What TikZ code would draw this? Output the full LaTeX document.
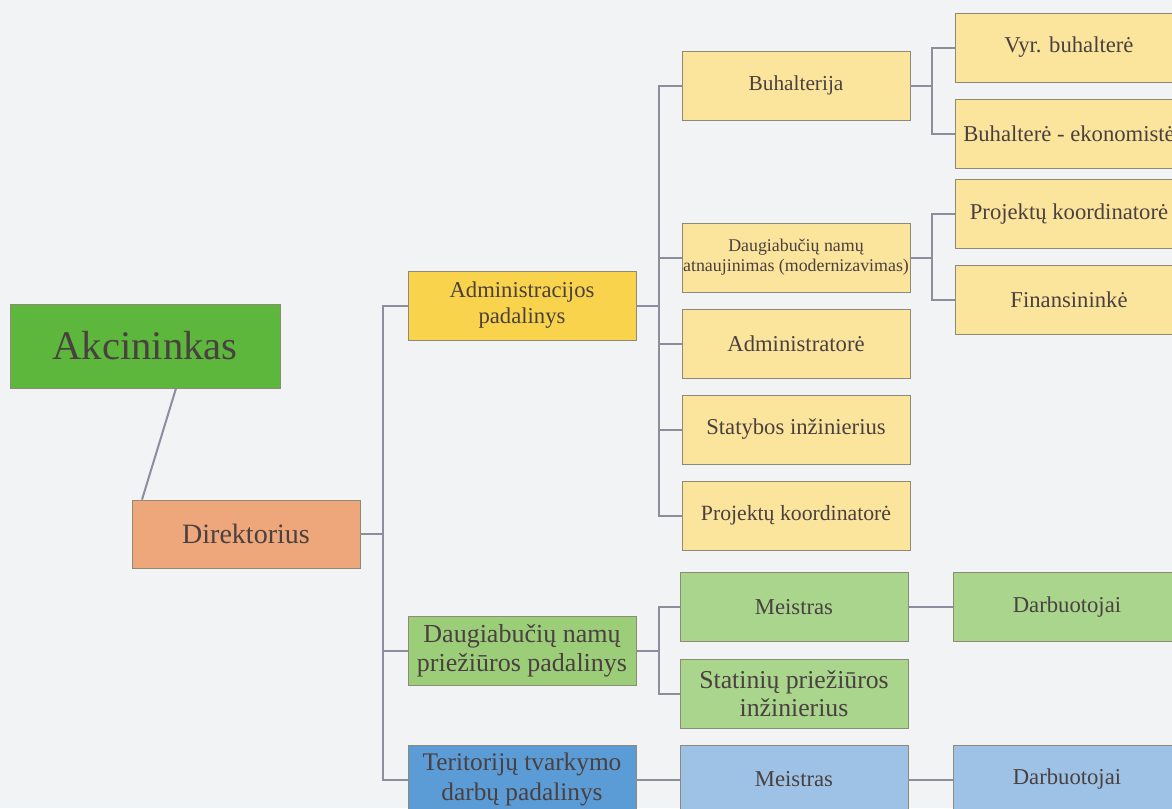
\documentclass[tikz,border=0pt]{standalone}
\usepackage{fontspec}
\setmainfont{Liberation Serif}
\usetikzlibrary{calc}
\definecolor{bg}{HTML}{F2F3F4}
\definecolor{txt}{HTML}{4A4040}
\definecolor{lin}{HTML}{8C8E9E}
\definecolor{outl}{HTML}{8F8A78}
\definecolor{cAk}{HTML}{5CB73C}
\definecolor{cDir}{HTML}{EDA77B}
\definecolor{cAdm}{HTML}{F8D34B}
\definecolor{cLy}{HTML}{FBE49B}
\definecolor{cGr}{HTML}{9CCE79}
\definecolor{cLg}{HTML}{A9D58D}
\definecolor{cBl}{HTML}{5C9CD6}
\definecolor{cLb}{HTML}{9DC2E6}
\tikzset{
  box/.style={rectangle, draw=outl, line width=0.6pt, inner sep=0pt, align=center, text=txt,
    minimum width=171pt, minimum height=51.75pt, font=\fontsize{17}{19.5}\selectfont},
  conn/.style={draw=lin, line width=1.5pt},
}
\begin{document}
\begin{tikzpicture}[x=0.75pt, y=-0.75pt]
\fill[bg] (0,0) rectangle (1172,808);
\useasboundingbox (0,0) rectangle (1172,808);
\clip (0,0) rectangle (1172,808);
% nodes
\node[box, fill=cAk, minimum width=202.5pt, minimum height=63pt, font=\fontsize{30.5}{33}\selectfont] (akc) at (145,346) {Akcininkas};
\node[box, fill=cDir, minimum height=51pt, font=\fontsize{21}{24}\selectfont] (dir) at (246,534) {Direktorius};
\node[box, fill=cAdm] (adm) at (522,305.5) {Administracijos\\padalinys};
\node[box, fill=cGr, font=\fontsize{19.5}{22}\selectfont] (dnp) at (522,650.5) {Daugiabučių namų\\priežiūros padalinys};
\node[box, fill=cBl, font=\fontsize{19}{22}\selectfont] (ter) at (522,779.5) {Teritorijų tvarkymo\\darbų padalinys};
\node[box, fill=cLy, font=\fontsize{16}{19}\selectfont] (buh) at (796,85.5) {Buhalterija};
\node[box, fill=cLy, font=\fontsize{13.4}{15}\selectfont] (dna) at (796,257.5) {Daugiabučių namų\\atnaujinimas (modernizavimas)};
\node[box, fill=cLy] (admr) at (796,343.5) {Administratorė};
\node[box, fill=cLy] (stat) at (796,429.5) {Statybos inžinierius};
\node[box, fill=cLy, font=\fontsize{16.3}{19}\selectfont] (proj) at (796,515.5) {Projektų koordinatorė};
\node[box, fill=cLg] (mg) at (794,607) {Meistras};
\node[box, fill=cLg, font=\fontsize{19.3}{21.5}\selectfont] (spi) at (794,693.5) {Statinių priežiūros\\inžinierius};
\node[box, fill=cLb] (mb) at (794,779.5) {Meistras};
\node[box, fill=cLy] (vyr) at (1069,47.5) {Vyr. buhalterė};
\node[box, fill=cLy] (be) at (1069,133.5) {Buhalterė - ekonomistė};
\node[box, fill=cLy] (pk) at (1069,214) {Projektų koordinatorė};
\node[box, fill=cLy] (fin) at (1069,299.5) {Finansininkė};
\node[box, fill=cLg] (dg) at (1067,607) {Darbuotojai};
\node[box, fill=cLb] (db) at (1067,779.5) {Darbuotojai};
% junction coordinates
\coordinate (t1) at (383,534);
\coordinate (t2) at (659,305.5);
\coordinate (t3) at (932,85.5);
\coordinate (t4) at (932,257.5);
\coordinate (t5) at (659,650.5);
% connectors
\draw[conn] ($(akc.south)+(31,0)$) -- ($(dir.north)+(-104,0)$);
\draw[conn] (dir.east) -- (t1);
\draw[conn] (t1) |- (adm.west);
\draw[conn] (t1) |- (dnp.west);
\draw[conn] (t1) |- (ter.west);
\draw[conn] (adm.east) -- (t2);
\draw[conn] (t2) |- (buh.west);
\draw[conn] (t2) |- (dna.west);
\draw[conn] (t2) |- (admr.west);
\draw[conn] (t2) |- (stat.west);
\draw[conn] (t2) |- (proj.west);
\draw[conn] (buh.east) -- (t3);
\draw[conn] (t3) |- (vyr.west);
\draw[conn] (t3) |- (be.west);
\draw[conn] (dna.east) -- (t4);
\draw[conn] (t4) |- (pk.west);
\draw[conn] (t4) |- (fin.west);
\draw[conn] (dnp.east) -- (t5);
\draw[conn] (t5) |- (mg.west);
\draw[conn] (t5) |- (spi.west);
\draw[conn] (ter.east) -- (mb.west);
\draw[conn] (mg.east) -- (dg.west);
\draw[conn] (mb.east) -- (db.west);
\end{tikzpicture}
\end{document}
